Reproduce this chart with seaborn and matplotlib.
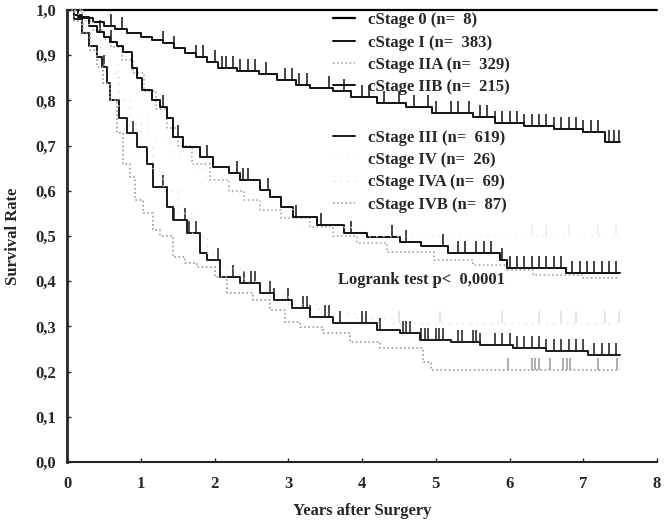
import numpy as np
import pandas as pd
import matplotlib
matplotlib.use("Agg")
import matplotlib.pyplot as plt
import seaborn as sns

# Kaplan-Meier steps (years, survival)
stage0_t = [0, 8.0]
stage0_s = [1.0, 1.0]

stage1_t = [0, 0.1, 0.2, 0.35, 0.5, 0.65, 0.81, 1.0, 1.15, 1.3, 1.45, 1.6, 1.75, 1.9, 2.05,
            2.3, 2.6, 2.85, 3.1, 3.3, 3.6, 3.85, 4.2, 4.6, 4.95, 5.5, 5.8, 6.2, 6.6, 7.0, 7.3, 7.5]
stage1_s = [1.0, 0.99, 0.983, 0.973, 0.965, 0.958, 0.949, 0.94, 0.934, 0.926, 0.915, 0.905, 0.895,
            0.885, 0.872, 0.865, 0.858, 0.845, 0.835, 0.828, 0.82, 0.808, 0.795, 0.785, 0.772,
            0.763, 0.75, 0.743, 0.737, 0.73, 0.708, 0.708]
stage1_cens = [0.6, 0.75, 1.3, 1.45, 1.75, 1.85, 2.0, 2.1, 2.15, 2.25, 2.35, 2.45, 2.55, 2.7, 2.95,
               3.05, 3.15, 3.25, 3.55, 3.75, 4.0, 4.1, 4.3, 4.5, 4.7, 4.9, 5.0, 5.2, 5.3, 5.45, 5.6,
               5.7, 5.8, 5.9, 6.0, 6.1, 6.2, 6.3, 6.4, 6.5, 6.6, 6.7, 6.8, 6.9, 7.0, 7.1, 7.2,
               7.35, 7.42, 7.48]

stage2a_t = [0, 0.2, 0.35, 0.5, 0.6, 0.75, 0.9, 1.05, 1.2, 1.35, 1.5, 1.7, 1.94, 2.2, 2.4, 2.62,
             2.9, 3.3, 3.6, 3.93, 4.34, 4.97, 5.5, 5.97, 6.32, 7.0, 7.5]
stage2a_s = [1.0, 0.975, 0.955, 0.935, 0.918, 0.89, 0.86, 0.82, 0.78, 0.74, 0.70, 0.66, 0.624,
             0.60, 0.58, 0.557, 0.54, 0.52, 0.50, 0.485, 0.465, 0.447, 0.435, 0.425, 0.414,
             0.407, 0.407]

stage2b_t = [0, 0.15, 0.3, 0.4, 0.5, 0.58, 0.68, 0.76, 0.88, 0.95, 1.02, 1.15, 1.26, 1.35, 1.44,
             1.57, 1.8, 1.98, 2.2, 2.35, 2.62, 2.75, 2.9, 3.07, 3.39, 3.75, 4.07, 4.52, 4.8, 5.16,
             5.87, 5.97, 6.76, 7.5]
stage2b_s = [1.0, 0.985, 0.965, 0.951, 0.94, 0.93, 0.92, 0.907, 0.872, 0.85, 0.823, 0.80, 0.785,
             0.76, 0.72, 0.697, 0.675, 0.653, 0.64, 0.624, 0.602, 0.586, 0.565, 0.542, 0.524,
             0.507, 0.498, 0.487, 0.478, 0.462, 0.447, 0.429, 0.418, 0.418]
stage2b_cens = [0.45, 0.6, 1.3, 1.5, 1.9, 2.3, 2.38, 2.45, 2.72, 3.1, 3.45, 3.85, 4.4, 4.6, 5.1,
                5.3, 5.4, 5.55, 5.65, 5.75, 5.9, 6.0, 6.1, 6.2, 6.3, 6.4, 6.5, 6.6, 6.7, 6.85,
                6.95, 7.05, 7.15, 7.25, 7.35, 7.45]

stage3_t = [0, 0.1, 0.2, 0.3, 0.4, 0.47, 0.54, 0.58, 0.7, 0.81, 0.95, 1.08, 1.17, 1.36, 1.44,
            1.63, 1.8, 1.9, 2.08, 2.35, 2.62, 2.8, 3.05, 3.3, 3.61, 4.2, 4.52, 4.79, 5.2, 5.6,
            6.05, 6.5, 7.06, 7.5]
stage3_s = [1.0, 0.98, 0.95, 0.92, 0.896, 0.874, 0.838, 0.80, 0.76, 0.728, 0.697, 0.66, 0.608,
            0.564, 0.535, 0.507, 0.462, 0.447, 0.41, 0.396, 0.374, 0.358, 0.34, 0.321, 0.307,
            0.292, 0.285, 0.27, 0.265, 0.259, 0.252, 0.245, 0.237, 0.237]
stage3_cens = [0.5, 0.9, 1.3, 1.45, 1.6, 1.65, 1.75, 2.05, 2.25, 2.4, 2.5, 2.55, 2.75, 2.8, 3.0,
               3.2, 3.25, 3.3, 3.5, 3.55, 3.7, 4.0, 4.05, 4.25, 4.55, 4.6, 4.65, 4.8, 4.85, 4.9,
               5.0, 5.05, 5.1, 5.3, 5.35, 5.5, 5.55, 5.6, 5.8, 5.9, 6.0, 6.1, 6.2, 6.3, 6.4,
               6.5, 6.6, 6.7, 6.8, 6.9, 7.0, 7.15, 7.25, 7.35, 7.45]

stage4_t = [0, 0.25, 0.45, 0.69, 0.83, 1.1, 1.4, 1.7, 1.9, 2.2, 2.6, 3.2, 4.0, 7.5]
stage4_s = [1.0, 0.96, 0.88, 0.78, 0.76, 0.72, 0.68, 0.65, 0.62, 0.595, 0.56, 0.52, 0.50, 0.50]
stage4_cens = [6.3, 6.5, 6.8, 7.2, 7.45]

stage4a_t = [0, 0.15, 0.3, 0.45, 0.55, 0.7, 0.85, 1.0, 1.15, 1.3, 1.5, 1.7, 1.9, 2.1, 2.4,
             2.7, 3.0, 3.4, 3.9, 4.4, 7.5]
stage4a_s = [1.0, 0.97, 0.94, 0.90, 0.86, 0.80, 0.75, 0.70, 0.65, 0.60, 0.55, 0.50, 0.46, 0.43,
             0.40, 0.37, 0.35, 0.33, 0.318, 0.307, 0.307]
stage4a_cens = [4.5, 5.06, 5.9, 6.4, 6.7, 6.9, 7.3, 7.48]

stage4b_t = [0, 0.1, 0.22, 0.31, 0.4, 0.49, 0.58, 0.68, 0.76, 0.85, 0.92, 1.03, 1.17, 1.26, 1.44,
             1.6, 1.76, 2.0, 2.17, 2.52, 2.75, 2.95, 3.16, 3.47, 3.84, 4.25, 4.83, 4.93, 7.5]
stage4b_s = [1.0, 0.975, 0.949, 0.911, 0.874, 0.838, 0.80, 0.728, 0.66, 0.63, 0.58, 0.55, 0.513,
             0.50, 0.454, 0.44, 0.431, 0.41, 0.374, 0.358, 0.336, 0.31, 0.299, 0.285, 0.265,
             0.252, 0.221, 0.204, 0.204]
stage4b_cens = [5.98, 6.3, 6.35, 6.4, 6.55, 6.72, 6.78, 6.82, 7.2, 7.46]

labels = ["cStage 0 (n=  8)", "cStage I (n=  383)", "cStage IIA (n=  329)", "cStage IIB (n=  215)",
          "cStage III (n=  619)", "cStage IV (n=  26)", "cStage IVA (n=  69)", "cStage IVB (n=  87)"]
y_tick_labels = ["0,0", "0,1", "0,2", "0,3", "0,4", "0,5", "0,6", "0,7", "0,8", "0,9", "1,0"]
x_tick_labels = ["0", "1", "2", "3", "4", "5", "6", "7", "8"]

# t, s, censored times, colour, dash, width
series = [
    (stage0_t, stage0_s, [], "#000000", "-", 1.6),
    (stage1_t, stage1_s, stage1_cens, "#111111", "-", 1.4),
    (stage2a_t, stage2a_s, [], "#a8a8a8", (0, (1, 1.5)), 1.2),
    (stage2b_t, stage2b_s, stage2b_cens, "#111111", "-", 1.4),
    (stage3_t, stage3_s, stage3_cens, "#1a1a1a", "-", 1.4),
    (stage4_t, stage4_s, stage4_cens, "#ececec", (0, (1, 4)), 1.0),
    (stage4a_t, stage4a_s, stage4a_cens, "#dcdcdc", (0, (1, 4)), 1.0),
    (stage4b_t, stage4b_s, stage4b_cens, "#9a9a9a", (0, (1, 1.5)), 1.2),
]

sns.set_style("ticks")
plt.rcParams["font.family"] = ["Liberation Serif", "DejaVu Serif"]
plt.rcParams["font.weight"] = "bold"

fig = plt.figure(figsize=(6.72, 5.22), dpi=100)
ax = fig.add_axes([67 / 672, 1 - 462 / 522, 590 / 672, 452 / 522])

handles = []
for (t, s, cens, col, ls, lw), lab in zip(series, labels):
    df = pd.DataFrame({"t": t, "s": s})
    sns.lineplot(data=df, x="t", y="s", ax=ax, color=col, linestyle=ls, linewidth=lw,
                 drawstyle="steps-post", estimator=None, sort=False, clip_on=False)
    handles.append(ax.lines[-1])
    if cens:
        idx = np.searchsorted(np.array(t), np.array(cens), side="right") - 1
        cy = np.array(s)[idx]
        ax.plot(cens, cy, linestyle="none", marker=2, markersize=9, mew=1.1,
                color=col, clip_on=False)

ax.set_xlim(0, 8)
ax.set_ylim(0, 1.0)
ax.set_xticks(range(9))
ax.set_xticklabels(x_tick_labels)
ax.set_yticks(np.linspace(0, 1, 11))
ax.set_yticklabels(y_tick_labels)
ax.tick_params(axis="both", direction="in", length=3, width=1, labelsize=12)
ax.tick_params(axis="x", pad=10)
ax.tick_params(axis="y", pad=8)
sns.despine(ax=ax)
ax.spines["left"].set_linewidth(2)
ax.spines["bottom"].set_linewidth(1.5)

ax.set_xlabel("Years after Surgery", fontsize=12, fontweight="bold", labelpad=8)
ax.set_ylabel("Survival Rate", fontsize=12, fontweight="bold", labelpad=10)

leg_kw = dict(loc="upper left", frameon=False, fontsize=12, handlelength=1.3,
              handletextpad=0.8, labelspacing=0.38, borderpad=0, borderaxespad=0)
leg1 = ax.legend(handles=handles[:4], labels=labels[:4], bbox_to_anchor=(0.451, 0.995), **leg_kw)
ax.add_artist(leg1)
ax.legend(handles=handles[4:], labels=labels[4:], bbox_to_anchor=(0.451, 0.735), **leg_kw)

ax.text(3.68, 0.403, "Logrank test p<  0,0001", fontsize=12, fontweight="bold", va="center")

fig.savefig("out.png", dpi=100)
